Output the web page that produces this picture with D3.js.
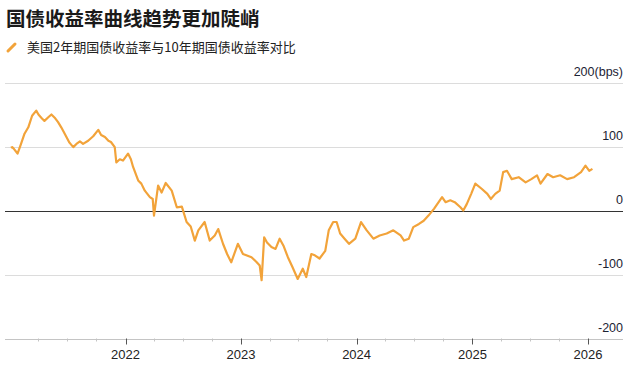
<!DOCTYPE html>
<html>
<head>
<meta charset="utf-8">
<script src="https://cdn.jsdelivr.net/npm/d3@7"></script>
<style>
  body { margin: 0; background: #fff; }
  svg text { font-family: "Liberation Sans", Arial, "Noto Sans CJK SC", sans-serif; }
</style>
</head>
<body>
<div class="vis"></div>
<script>
// 2y vs 10y US treasury spread, bps
var dates = [
  "2021-01-04","2021-01-08","2021-01-14","2021-01-25","2021-02-05","2021-02-16","2021-02-28","2021-03-12",
  "2021-03-25","2021-04-01","2021-04-10","2021-04-20","2021-05-03","2021-05-12","2021-05-24","2021-06-02",
  "2021-06-12","2021-06-23","2021-07-08","2021-07-20","2021-07-30","2021-08-10","2021-08-20","2021-09-05",
  "2021-09-21","2021-10-07","2021-10-16","2021-10-28","2021-11-08","2021-11-16","2021-11-28","2021-12-03",
  "2021-12-14","2021-12-24","2022-01-09","2022-01-18","2022-01-25","2022-02-10","2022-02-20","2022-03-03",
  "2022-03-19","2022-03-28","2022-04-01","2022-04-14","2022-04-25","2022-05-08","2022-05-27","2022-06-12",
  "2022-06-28","2022-07-13","2022-07-26","2022-08-08","2022-08-19","2022-09-08","2022-09-24","2022-10-10",
  "2022-10-21","2022-11-05","2022-11-18","2022-12-01","2022-12-22","2023-01-07","2023-02-03","2023-02-18",
  "2023-03-01","2023-03-07","2023-03-15","2023-03-24","2023-04-07","2023-04-20","2023-05-03","2023-05-15",
  "2023-05-29","2023-06-12","2023-06-29","2023-07-15","2023-07-26","2023-08-11","2023-08-22","2023-09-06",
  "2023-09-24","2023-10-05","2023-10-19","2023-10-30","2023-11-10","2023-11-24","2023-12-08","2023-12-28",
  "2024-01-15","2024-02-02","2024-02-23","2024-03-14","2024-04-05","2024-04-26","2024-05-19","2024-05-30",
  "2024-06-14","2024-06-28","2024-07-16","2024-07-31","2024-08-15","2024-09-02","2024-09-27","2024-10-08",
  "2024-10-23","2024-11-06","2024-11-24","2024-12-03","2024-12-14","2024-12-28","2025-01-10","2025-01-30",
  "2025-02-17","2025-02-28","2025-03-14","2025-03-28","2025-04-08","2025-04-20","2025-05-05","2025-05-27",
  "2025-06-18","2025-07-06","2025-07-24","2025-08-04","2025-08-26","2025-09-13","2025-10-05","2025-10-27",
  "2025-11-18","2025-12-10","2025-12-24","2026-01-05","2026-01-15"
];
var spread = [
   98,  99,  96,  89, 104, 120, 130, 148,
  156, 150, 145, 140, 146, 150, 144, 138,
  130, 120, 106,  99, 104, 108, 104, 109,
  116, 126, 118, 115, 109, 107,  99,  75,
   80,  78,  89,  80,  68,  47,  42,  31,
   21,  18,  -8,  39,  28,  43,  31,   5,
    6, -18, -25, -47, -31, -18, -47, -39,
  -29, -52, -68, -81, -52, -68, -73, -80,
  -86,-109, -42, -50, -57, -60, -44, -55,
  -73, -88,-107, -91,-104, -68, -70, -75,
  -63, -31, -18, -18, -36, -44, -52, -44,
  -18, -31, -44, -39, -36, -31, -39, -47,
  -44, -26, -21, -16,  -8,   3,  21,  13,
   16,  13,   5,   0,  10,  26,  42,  34,
   26,  18,  26,  31,  60,  62,  49,  52,
   44,  49,  55,  42,  57,  52,  55,  49,
   52,  60,  70,  62,  65
];
var yTicks = [200, 100, 0, -100, -200];
var yearTicks = ["2022", "2023", "2024", "2025", "2026"];

var title = "国债收益率曲线趋势更加陡峭";
var subtitle = "美国2年期国债收益率与10年期国债收益率对比";

var width = 640, height = 370;
var left = 5, right = 623;
var parse = d3.timeParse("%Y-%m-%d");

var data = dates.map(function(d, i) { return { date: parse(d), value: spread[i] }; });

var svg = d3.select("div.vis").append("svg")
            .attr("width", width)
            .attr("height", height);

// titles
svg.append("text")
   .text(title)
   .attr("x", 6).attr("y", 26)
   .style("font-family", "'Noto Sans CJK SC', sans-serif")
   .style("font-weight", "bold")
   .style("font-size", "19.5px")
   .style("fill", "#1a1a1a");

svg.append("line")
   .attr("x1", 8).attr("y1", 51).attr("x2", 15).attr("y2", 44)
   .attr("stroke", "#f2a33a").attr("stroke-width", 3).attr("stroke-linecap", "round");

svg.append("text")
   .text(subtitle)
   .attr("x", 27).attr("y", 52)
   .style("font-family", "'Noto Sans CJK SC', sans-serif")
   .style("font-size", "13px")
   .style("fill", "#222");

// scales
var x = d3.scaleTime()
          .domain([parse("2022-01-01"), parse("2026-01-01")])
          .range([125.5, 588]);
var y = d3.scaleLinear()
          .domain([-200, 200])
          .range([338.5, 82.5]);

// gridlines + y labels
var grid = svg.append("g");
grid.selectAll("line")
    .data(yTicks.filter(function(d) { return d !== -200; }))
    .enter()
    .append("line")
      .attr("x1", left).attr("x2", right)
      .attr("y1", function(d) { return Math.round(y(d)) + 0.5; })
      .attr("y2", function(d) { return Math.round(y(d)) + 0.5; })
      .attr("stroke", function(d) { return d === 0 ? "#333" : "#dcdcdc"; })
      .attr("stroke-width", 1);

grid.selectAll("text")
    .data(yTicks)
    .enter()
    .append("text")
      .text(function(d) { return d === 200 ? d + "(bps)" : d; })
      .attr("x", right)
      .attr("y", function(d) { return y(d) - 7; })
      .attr("text-anchor", "end")
      .style("font-size", "12.5px")
      .style("fill", "#1c2333");

// x axis
var minor = d3.timeMonth.range(parse("2021-04-01"), parse("2026-01-01"), 3)
              .filter(function(d) { return d.getMonth() !== 0; });
var major = yearTicks.map(function(d) { return parse(d + "-01-01"); });

var axis = svg.append("g");
axis.append("line")
    .attr("x1", left).attr("x2", right)
    .attr("y1", Math.round(y(-200)) + 0.5).attr("y2", Math.round(y(-200)) + 0.5)
    .attr("stroke", "#c4c4c4");

axis.selectAll("line.minor")
    .data(minor)
    .enter()
    .append("line")
      .attr("class", "minor")
      .attr("x1", function(d) { return Math.round(x(d)) + 0.5; })
      .attr("x2", function(d) { return Math.round(x(d)) + 0.5; })
      .attr("y1", y(-200)).attr("y2", y(-200) + 3)
      .attr("stroke", "#c4c4c4");

axis.selectAll("line.major")
    .data(major)
    .enter()
    .append("line")
      .attr("class", "major")
      .attr("x1", function(d) { return Math.round(x(d)) + 0.5; })
      .attr("x2", function(d) { return Math.round(x(d)) + 0.5; })
      .attr("y1", y(-200)).attr("y2", y(-200) + 6)
      .attr("stroke", "#555");

axis.selectAll("text")
    .data(major)
    .enter()
    .append("text")
      .text(function(d) { return d3.timeFormat("%Y")(d); })
      .attr("x", function(d) { return x(d); })
      .attr("y", 359)
      .attr("text-anchor", "middle")
      .style("font-size", "13px")
      .style("fill", "#222");

// spread line
var line = d3.line()
             .x(function(d) { return x(d.date); })
             .y(function(d) { return y(d.value); });

svg.append("path")
   .datum(data)
   .attr("d", line)
   .attr("fill", "none")
   .attr("stroke", "#f2a33a")
   .attr("stroke-width", 2.2)
   .attr("stroke-linejoin", "round");
</script>
</body>
</html>
